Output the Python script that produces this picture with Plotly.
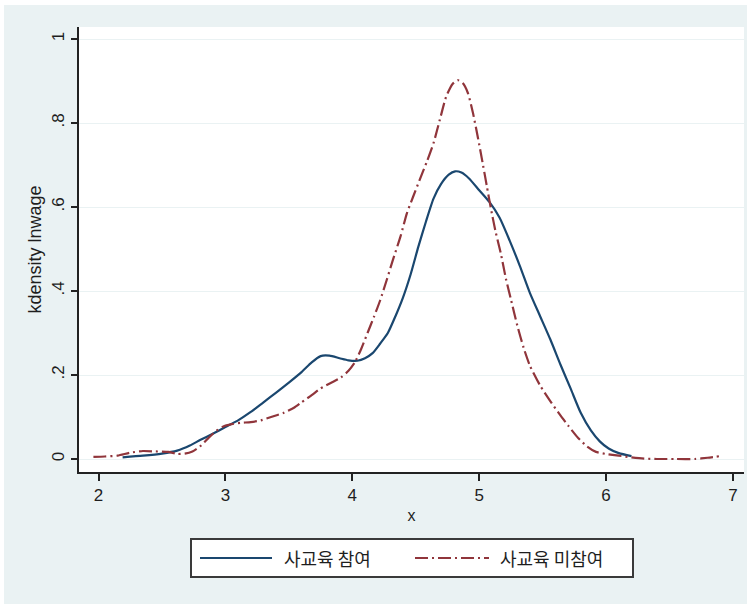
import plotly.graph_objects as go

# ---- data ----
x_participate = [2.19, 2.35, 2.50, 2.62, 2.72, 2.80, 2.90, 3.00, 3.10, 3.20, 3.30, 3.40, 3.50,
                 3.60, 3.68, 3.75, 3.82, 3.90, 3.97, 4.04, 4.10, 4.16, 4.22, 4.28, 4.34, 4.40,
                 4.46, 4.52, 4.58, 4.64, 4.70, 4.76, 4.81, 4.86, 4.92, 5.00, 5.08, 5.16, 5.24,
                 5.32, 5.40, 5.48, 5.56, 5.64, 5.72, 5.80, 5.88, 5.95, 6.02, 6.10, 6.20]
y_participate = [0.004, 0.008, 0.013, 0.020, 0.032, 0.045, 0.060, 0.076, 0.092, 0.112, 0.135,
                 0.158, 0.182, 0.207, 0.230, 0.245, 0.246, 0.240, 0.235, 0.234, 0.240, 0.252,
                 0.275, 0.300, 0.340, 0.385, 0.440, 0.505, 0.565, 0.620, 0.655, 0.677, 0.685,
                 0.682, 0.668, 0.640, 0.612, 0.575, 0.520, 0.460, 0.395, 0.340, 0.285, 0.225,
                 0.168, 0.110, 0.068, 0.042, 0.025, 0.014, 0.007]

x_nonpart = [1.96, 2.05, 2.15, 2.25, 2.35, 2.45, 2.55, 2.62, 2.68, 2.74, 2.80, 2.86, 2.92,
             2.98, 3.05, 3.12, 3.20, 3.28, 3.36, 3.46, 3.54, 3.60, 3.68, 3.75, 3.83, 3.91,
             3.97, 4.02, 4.07, 4.12, 4.17, 4.22, 4.27, 4.32, 4.38, 4.43, 4.48, 4.53, 4.59,
             4.64, 4.69, 4.74, 4.79, 4.83, 4.87, 4.91, 4.95, 4.99, 5.03, 5.06, 5.09, 5.13,
             5.17, 5.21, 5.25, 5.30, 5.35, 5.40, 5.48, 5.56, 5.63, 5.70, 5.78, 5.85, 5.92,
             6.00, 6.10, 6.20, 6.30, 6.40, 6.55, 6.70, 6.80, 6.90]
y_nonpart = [0.005, 0.006, 0.008, 0.015, 0.019, 0.018, 0.017, 0.012, 0.013, 0.018, 0.030,
             0.048, 0.065, 0.077, 0.083, 0.086, 0.088, 0.092, 0.100, 0.110, 0.122, 0.135,
             0.152, 0.168, 0.181, 0.194, 0.210, 0.230, 0.262, 0.300, 0.338, 0.378, 0.425,
             0.474, 0.530, 0.585, 0.625, 0.664, 0.710, 0.752, 0.808, 0.863, 0.893, 0.902,
             0.895, 0.872, 0.825, 0.765, 0.700, 0.650, 0.600, 0.540, 0.490, 0.430, 0.380,
             0.318, 0.265, 0.222, 0.175, 0.138, 0.108, 0.080, 0.050, 0.030, 0.017, 0.012,
             0.008, 0.004, 0.001, 0.000, 0.000, 0.000, 0.003, 0.007]

series_names = ["사교육 참여", "사교육 미참여"]
x_ticks = [2, 3, 4, 5, 6, 7]
y_ticks = [0, 0.2, 0.4, 0.6, 0.8, 1.0]
y_tick_labels = ["0", ".2", ".4", ".6", ".8", "1"]

BLUE = "#1a476f"
RED = "#90353b"
BG = "#eaf2f3"
TXT = "#1e1e1e"
FONT = "Liberation Sans, Arial, Noto Sans CJK KR, sans-serif"
DASH = "13px,4px,2px,4px"

fig = go.Figure()
fig.add_trace(go.Scatter(x=x_participate, y=y_participate, mode="lines", name=series_names[0],
                         line=dict(color=BLUE, width=2.2, shape="spline", smoothing=0.6),
                         showlegend=False))
fig.add_trace(go.Scatter(x=x_nonpart, y=y_nonpart, mode="lines", name=series_names[1],
                         line=dict(color=RED, width=2.2, dash=DASH, shape="spline", smoothing=0.6),
                         showlegend=False))

# plot area in pixels: x 79..744, y 27..472
L, R, T, B = 79, 744, 27, 472
W, H = R - L, B - T


def px(xp):
    return (xp - L) / W


def py(yp):
    return (B - yp) / H


shapes = [
    # light outer graph region
    dict(type="rect", xref="paper", yref="paper", x0=px(4), x1=px(747), y0=py(604), y1=py(5),
         fillcolor=BG, line=dict(width=0), layer="below"),
    # white plot region
    dict(type="rect", xref="paper", yref="paper", x0=0, x1=1, y0=0, y1=1,
         fillcolor="white", line=dict(width=0), layer="below"),
    # legend box
    dict(type="rect", xref="paper", yref="paper", x0=px(191), x1=px(633), y0=py(577), y1=py(539),
         fillcolor="white", line=dict(color="#3a3a3a", width=2)),
    # legend keys
    dict(type="line", xref="paper", yref="paper", x0=px(200), x1=px(272), y0=py(558), y1=py(558),
         line=dict(color=BLUE, width=2.2)),
    dict(type="line", xref="paper", yref="paper", x0=px(415), x1=px(489), y0=py(558), y1=py(558),
         line=dict(color=RED, width=2.2, dash=DASH)),
]

annotations = [
    dict(x=px(282), y=py(558), xref="paper", yref="paper", text=series_names[0], showarrow=False,
         xanchor="left", yanchor="middle", font=dict(family="Noto Sans CJK KR", size=18, color=TXT)),
    dict(x=px(498), y=py(558), xref="paper", yref="paper", text=series_names[1], showarrow=False,
         xanchor="left", yanchor="middle", font=dict(family="Noto Sans CJK KR", size=18, color=TXT)),
]

fig.update_layout(
    width=751, height=604,
    margin=dict(l=L, r=751 - R, t=T, b=604 - B, pad=0, autoexpand=False),
    paper_bgcolor="white",
    plot_bgcolor="rgba(0,0,0,0)",
    font=dict(family=FONT, color=TXT, size=16),
    shapes=shapes,
    annotations=annotations,
    showlegend=False,
    xaxis=dict(
        automargin=False,
        range=[2 + (L - 98.5) / 126.9, 2 + (R - 98.5) / 126.9],
        tickvals=x_ticks, ticktext=[str(v) for v in x_ticks],
        ticks="outside", ticklen=7, tickwidth=1.5, tickcolor="#222",
        showline=True, linecolor="#222", linewidth=1.5,
        showgrid=False, zeroline=False,
        tickfont=dict(size=17, family=FONT, color=TXT),
        title=dict(text="x", font=dict(size=16, family=FONT, color=TXT), standoff=6),
    ),
    yaxis=dict(
        automargin=False,
        range=[(459 - B) / 420, (459 - T) / 420],
        tickvals=y_ticks, ticktext=y_tick_labels, tickangle=-90,
        ticks="outside", ticklen=6, tickwidth=1.5, tickcolor="#222",
        showline=True, linecolor="#222", linewidth=1.5,
        showgrid=True, gridcolor=BG, gridwidth=1.2,
        zeroline=False,
        tickfont=dict(size=17, family=FONT, color=TXT),
        title=dict(text="kdensity lnwage", font=dict(size=18, family=FONT, color=TXT), standoff=3),
    ),
)

fig.write_html("out.html", config={"displayModeBar": False},
               post_script="document.body.style.margin='0px';")
